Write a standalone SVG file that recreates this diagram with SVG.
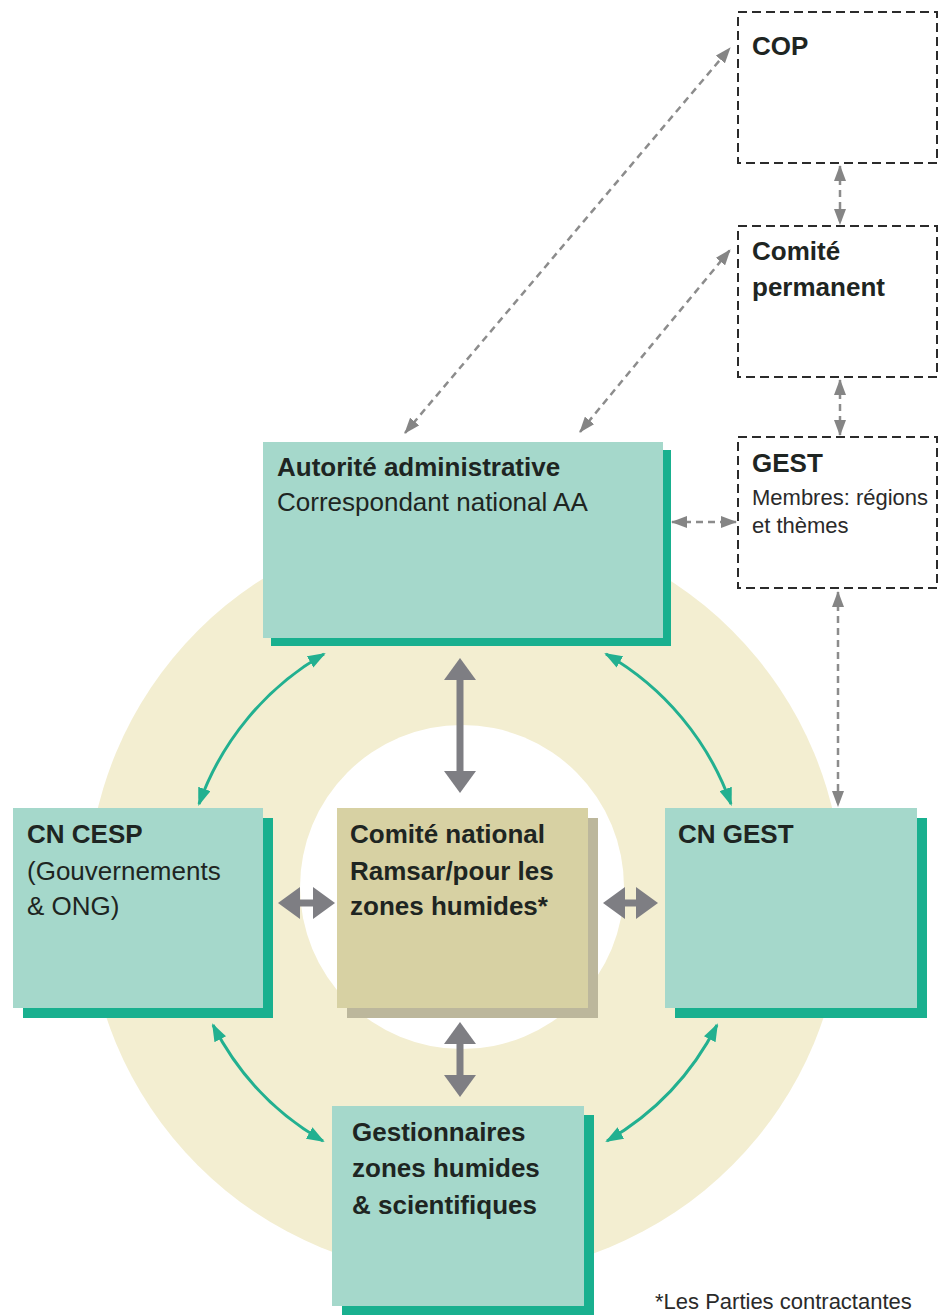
<svg xmlns="http://www.w3.org/2000/svg" width="939" height="1315" viewBox="0 0 939 1315">
<defs>
<style>
.tb{font-family:"Liberation Sans",Arial,sans-serif;font-weight:bold;font-size:26px;fill:#1e2522}
.tr{font-family:"Liberation Sans",Arial,sans-serif;font-size:26px;fill:#1e2522}
.ts{font-family:"Liberation Sans",Arial,sans-serif;font-size:22px;fill:#2a2a2a}
.teal{fill:#a5d8cb}
.tealsh{fill:#19b08f}
.khaki{fill:#d7d1a3}
.khakish{fill:#bcb79c}
.dbox{fill:#fff;stroke:#2b2b2b;stroke-width:2;stroke-dasharray:9 5}
.gdash{fill:none;stroke:#8c8c8c;stroke-width:2.5;stroke-dasharray:7 5}
.gthick{fill:none;stroke:#7e7e83;stroke-width:7}
.tarc{fill:none;stroke:#22b090;stroke-width:3}
</style>
<marker id="gh" viewBox="0 0 22 32" refX="0" refY="16" markerWidth="22" markerHeight="32" markerUnits="userSpaceOnUse" orient="auto-start-reverse">
<path d="M0,0 L22,16 L0,32 Z" fill="#7e7e83"/>
</marker>
<marker id="dh" viewBox="0 0 16 12" refX="15" refY="6" markerWidth="16" markerHeight="12" markerUnits="userSpaceOnUse" orient="auto-start-reverse">
<path d="M0,0 L16,6 L0,12 Z" fill="#858585"/>
</marker>
<marker id="th" viewBox="0 0 18 13" refX="16" refY="6.5" markerWidth="18" markerHeight="13" markerUnits="userSpaceOnUse" orient="auto-start-reverse">
<path d="M0,0 L18,6.5 L0,13 Z" fill="#22b090"/>
</marker>
</defs>
<rect width="939" height="1315" fill="#fff"/>
<g id="ring">
<circle cx="465" cy="898" r="378" fill="#f3eed1"/>
<circle cx="462" cy="887" r="162" fill="#fff"/>
</g>

<g id="cop">
<rect class="dbox" x="738" y="12" width="199" height="151"/>
<text class="tb" x="752" y="55">COP</text>
</g>
<g id="comite-permanent">
<rect class="dbox" x="738" y="226" width="199" height="151"/>
<text class="tb" x="752" y="260">Comité</text>
<text class="tb" x="752" y="296">permanent</text>
</g>
<g id="gest">
<rect class="dbox" x="738" y="437" width="199" height="151"/>
<text class="tb" x="752" y="472">GEST</text>
<text class="ts" x="752" y="505">Membres: régions</text>
<text class="ts" x="752" y="533">et thèmes</text>
</g>

<g id="autorite">
<rect class="tealsh" x="271" y="450" width="400" height="196"/>
<rect class="teal" x="263" y="442" width="400" height="196"/>
<text class="tb" x="277" y="476">Autorité administrative</text>
<text class="tr" x="277" y="511">Correspondant national AA</text>
</g>
<g id="cn-cesp">
<rect class="tealsh" x="23" y="818" width="250" height="200"/>
<rect class="teal" x="13" y="808" width="250" height="200"/>
<text class="tb" x="27" y="843">CN CESP</text>
<text class="tr" x="27" y="880">(Gouvernements</text>
<text class="tr" x="27" y="915">&amp; ONG)</text>
</g>
<g id="comite-national">
<rect class="khakish" x="347" y="818" width="251" height="200"/>
<rect class="khaki" x="337" y="808" width="251" height="200"/>
<text class="tb" x="350" y="843">Comité national</text>
<text class="tb" x="350" y="880">Ramsar/pour les</text>
<text class="tb" x="350" y="915">zones humides*</text>
</g>
<g id="cn-gest">
<rect class="tealsh" x="675" y="818" width="252" height="200"/>
<rect class="teal" x="665" y="808" width="252" height="200"/>
<text class="tb" x="678" y="843">CN GEST</text>
</g>
<g id="gestionnaires">
<rect class="tealsh" x="342" y="1115" width="252" height="200"/>
<rect class="teal" x="332" y="1106" width="252" height="200"/>
<text class="tb" x="352" y="1141">Gestionnaires</text>
<text class="tb" x="352" y="1177">zones humides</text>
<text class="tb" x="352" y="1214">&amp; scientifiques</text>
</g>

<g id="connectors">
<path class="gdash" d="M405,433 L730,48" marker-start="url(#dh)" marker-end="url(#dh)"/>
<path class="gdash" d="M580,432 L730,250" marker-start="url(#dh)" marker-end="url(#dh)"/>
<path class="gdash" d="M840,166 L840,224" marker-start="url(#dh)" marker-end="url(#dh)"/>
<path class="gdash" d="M840,380 L840,435" marker-start="url(#dh)" marker-end="url(#dh)"/>
<path class="gdash" d="M672,522 L736,522" marker-start="url(#dh)" marker-end="url(#dh)"/>
<path class="gdash" d="M838,592 L838,806" marker-start="url(#dh)" marker-end="url(#dh)"/>

<path class="gthick" d="M460,680 L460,771" marker-start="url(#gh)" marker-end="url(#gh)"/>
<path class="gthick" d="M460,1044 L460,1075" marker-start="url(#gh)" marker-end="url(#gh)"/>
<path class="gthick" d="M300,903 L313,903" marker-start="url(#gh)" marker-end="url(#gh)"/>
<path class="gthick" d="M625,903 L636,903" marker-start="url(#gh)" marker-end="url(#gh)"/>

<path class="tarc" d="M324,654 A282,282 0 0 0 199,804" marker-start="url(#th)" marker-end="url(#th)"/>
<path class="tarc" d="M606,654 A282,282 0 0 1 731,804" marker-start="url(#th)" marker-end="url(#th)"/>
<path class="tarc" d="M213,1025 A282,282 0 0 0 323,1141" marker-start="url(#th)" marker-end="url(#th)"/>
<path class="tarc" d="M717,1025 A282,282 0 0 1 607,1141" marker-start="url(#th)" marker-end="url(#th)"/>
</g>

<text id="footnote" class="ts" x="655" y="1309">*Les Parties contractantes</text>
</svg>
